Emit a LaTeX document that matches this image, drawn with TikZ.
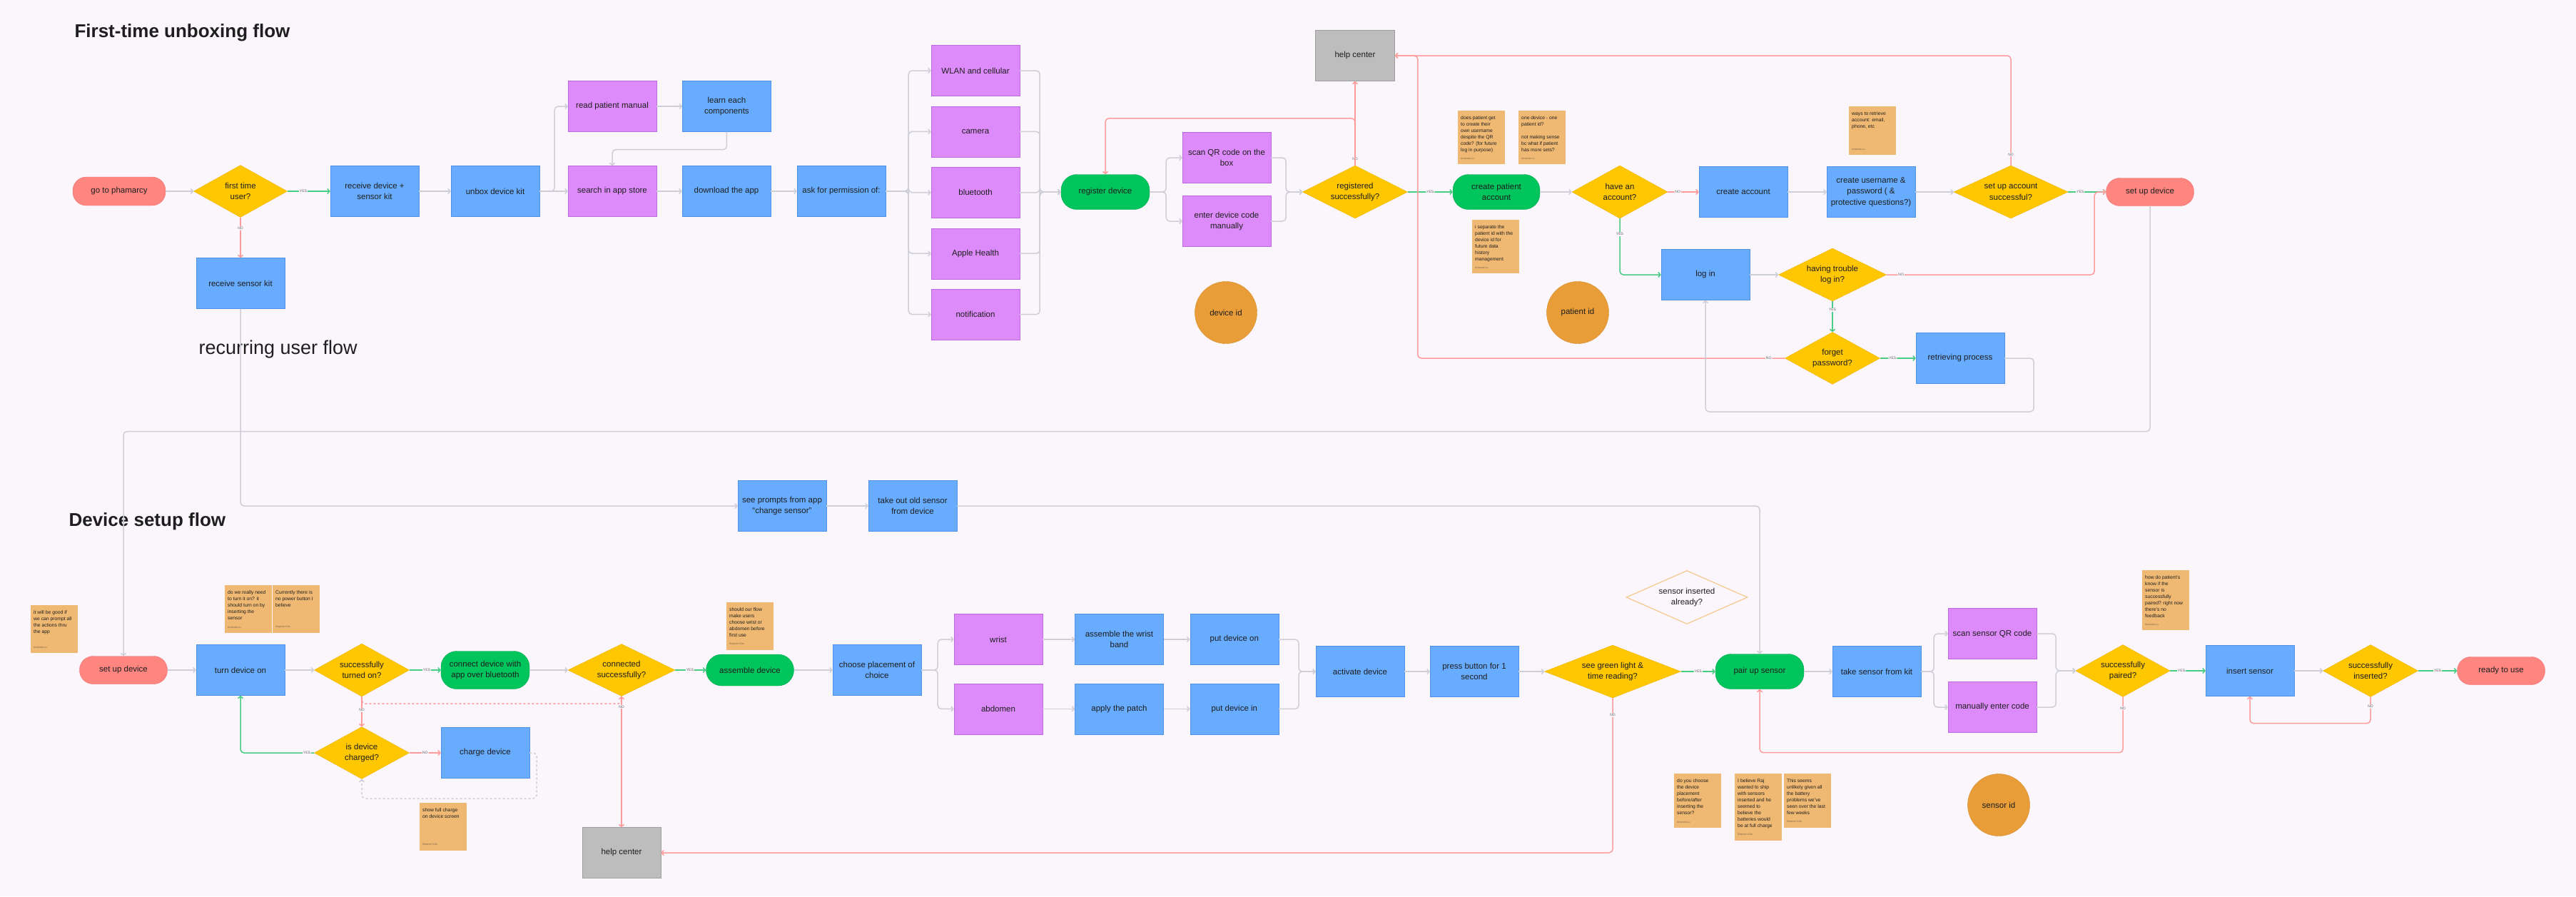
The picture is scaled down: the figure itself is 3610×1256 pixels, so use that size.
\documentclass[tikz,border=0pt]{standalone}
\usepackage{fontspec}
\setmainfont{Liberation Sans}
\usetikzlibrary{shapes.geometric,arrows.meta,positioning}
\definecolor{bgc}{RGB}{250,246,252}
\definecolor{ink}{RGB}{30,30,30}
\definecolor{procfill}{RGB}{104,172,255}
\definecolor{procline}{RGB}{78,146,232}
\definecolor{permfill}{RGB}{221,139,250}
\definecolor{permline}{RGB}{190,105,228}
\definecolor{actfill}{RGB}{0,196,92}
\definecolor{actline}{RGB}{0,168,78}
\definecolor{termfill}{RGB}{255,133,128}
\definecolor{termline}{RGB}{238,112,110}
\definecolor{decfill}{RGB}{255,199,0}
\definecolor{decline}{RGB}{236,178,0}
\definecolor{decopenline}{RGB}{246,200,140}
\definecolor{helpfill}{RGB}{189,189,189}
\definecolor{helpline}{RGB}{158,158,158}
\definecolor{idfill}{RGB}{232,157,56}
\definecolor{idline}{RGB}{212,138,40}
\definecolor{notefill}{RGB}{240,185,115}
\definecolor{authorgrey}{RGB}{120,95,70}
\definecolor{linegrey}{RGB}{206,206,214}
\definecolor{linered}{RGB}{255,155,155}
\definecolor{linegreen}{RGB}{72,204,132}
\definecolor{labtext}{RGB}{95,95,95}
\newcommand\nodefont{\fontsize{11.5}{15.6}\selectfont}
\newcommand\notefont{\fontsize{6.8}{9}\selectfont}
\newcommand\authorfont{\fontsize{3.6}{4}\selectfont\color{authorgrey}}
\newcommand\labfont{\fontsize{5}{6}\selectfont}
\newcommand\headfont{\fontsize{26}{30}\selectfont\bfseries}
\newcommand\recurfont{\fontsize{27}{32}\selectfont}
\newcommand\notebody[3]{\parbox[t][#1][t]{58pt}{\raggedright #2\par\vfill{\authorfont #3}}}
\tikzset{
  base/.style={align=center, font=\nodefont, text=ink, inner sep=2pt},
  proc/.style={base, rectangle, draw=procline, fill=procfill, minimum width=124pt, minimum height=71pt},
  perm/.style={proc, draw=permline, fill=permfill},
  help/.style={proc, draw=helpline, fill=helpfill, minimum width=111pt},
  term/.style={base, rectangle, rounded corners=19pt, draw=termline, fill=termfill, minimum width=123pt, minimum height=39pt},
  act/.style={base, rectangle, rounded corners=22pt, draw=actline, fill=actfill, minimum width=124pt, minimum height=49pt},
  dec/.style={base, diamond, aspect=2.2, inner sep=0pt, draw=decline, fill=decfill},
  decopen/.style={dec, draw=decopenline, fill=bgc, line width=1.2pt},
  idcirc/.style={base, circle, draw=idline, fill=idfill, minimum size=87pt},
  note/.style={rectangle, fill=notefill, anchor=north west, inner xsep=4pt, inner ysep=7pt, font=\notefont, text=ink, align=left},
  heading/.style={anchor=west, font=\headfont, text=ink},
  arr/.style={-{Straight Barb[length=3pt,width=7pt]}, draw=linegrey, line width=1.5pt, rounded corners=5pt},
  noarr/.style={arr, draw=linered},
  yesarr/.style={arr, draw=linegreen},
  elab/.style={font=\labfont, text=labtext, fill=bgc, inner sep=1pt},
}

\begin{document}
\begin{tikzpicture}[x=1pt, y=-1pt, node distance=14pt]
\path[use as bounding box, fill=bgc] (0,0) rectangle (3610,1256);

% first-time unboxing flow
\node[heading] (ttop) at (101,46) {First-time unboxing flow};
\node[term, minimum width=130pt, minimum height=40pt] (pharm) at (167,268) {go to phamarcy};
\node[dec, minimum width=131pt, minimum height=73pt] (ftu) at (337,268) {first time\\user?};
\node[proc] (rcv) at (525,268) {receive device +\\sensor kit};
\node[proc] (unbox) at (694,268) {unbox device kit};
\node[perm] (manual) at (858,149) {read patient manual};
\node[proc, right=36pt of manual] (learn) {learn each\\components};
\node[perm] (search) at (858,268) {search in app store};
\node[proc] (dl) at (1018,268) {download the app};
\node[proc] (ask) at (1179,268) {ask for permission of:};
\node[perm] (wlan) at (1367,99) {WLAN and cellular};
\node[perm, below=of wlan] (cam) {camera};
\node[perm, below=of cam] (bt) {bluetooth};
\node[perm, below=of bt] (health) {Apple Health};
\node[perm, below=of health] (notif) {notification};
\node[act] (reg) at (1549,269) {register device};
\node[perm] (qr) at (1719,221) {scan QR code on the\\box};
\node[perm] (devcode) at (1719,310) {enter device code\\manually};
\node[dec, minimum width=147pt, minimum height=74pt] (regok) at (1899,269) {registered\\successfully?};
\node[help] (helptop) at (1899,78) {help center};
\node[act, minimum width=122pt] (patacc) at (2097,269) {create patient\\account};
\node[dec, minimum width=134pt, minimum height=74pt] (hasacc) at (2270,269) {have an\\account?};
\node[proc] (newacc) at (2443,269) {create account};
\node[proc] (creds) at (2622,269) {create username \&\\password ( \&\\protective questions?)};
\node[dec, minimum width=160pt, minimum height=74pt] (accok) at (2818,269) {set up account\\successful?};
\node[term] (setuptop) at (3013,269) {set up device};
\node[proc] (login) at (2390,385) {log in};
\node[dec, minimum width=151pt, minimum height=74pt] (trouble) at (2568,385) {having trouble\\log in?};
\node[dec, minimum width=133pt, minimum height=73pt] (forgot) at (2568,502) {forget\\password?};
\node[proc] (retrieve) at (2747,502) {retrieving process};
\node[idcirc] (devid) at (1718,438) {device id};
\node[idcirc] (patid) at (2211,438) {patient id};
\node[note] (n1) at (2043,155) {\notebody{61pt}{does patient get\\to create their\\own username\\despite the QR\\code? (for future\\log in purpose)}{Amanda Lu}};
\node[note] (n2) at (2128,155) {\notebody{61pt}{one device - one\\patient id?\\[9pt]not making sense\\bc what if patient\\has more sets?}{Amanda Lu}};
\node[note] (n3) at (2063,308) {\notebody{61pt}{i separate the\\patient id with the\\device id for\\future data\\history\\management}{Amanda Lu}};
\node[note] (n4) at (2591,149) {\notebody{54pt}{ways to retrieve\\account: email,\\phone, etc}{Amanda Lu}};

% recurring user flow
\node[proc] (rsk) at (337,397) {receive sensor kit};
\node[anchor=west, font=\recurfont, text=ink] (trecur) at (275,490) {recurring user flow};
\node[proc] (prompts) at (1096,709) {see prompts from app\\“change sensor”};
\node[proc] (oldsensor) at (1279,709) {take out old sensor\\from device};

% device setup flow
\node[heading] (tbottom) at (93,731) {Device setup flow};
\node[note] (n5) at (43,848) {\notebody{53pt}{it will be good if\\we can prompt all\\the actions thru\\the app}{Amanda Lu}};
\node[term] (setupbot) at (173,939) {set up device};
\node[proc] (turnon) at (337,939) {turn device on};
\node[note] (n6) at (315,820) {\notebody{53pt}{do we really need\\to turn it on? it\\should turn on by\\inserting the\\sensor}{Amanda Lu}};
\node[note] (n7) at (382,820) {\notebody{53pt}{Currently there is\\no power button I\\believe}{Stephen Kim}};
\node[dec, minimum width=133pt, minimum height=74pt] (turnok) at (507,939) {successfully\\turned on?};
\node[act, minimum height=53pt] (connect) at (680,939) {connect device with\\app over bluetooth};
\node[dec, minimum width=150pt, minimum height=73pt] (connok) at (871,939) {connected\\successfully?};
\node[act, minimum width=123pt, minimum height=44pt] (assemble) at (1051,939) {assemble device};
\node[note] (n8) at (1018,844) {\notebody{53pt}{should our flow\\make users\\choose wrist or\\abdomen before\\first use}{Stephen Kim}};
\node[proc] (placement) at (1229,939) {choose placement of\\choice};
\node[dec, minimum width=133pt, minimum height=73pt] (charged) at (507,1055) {is device\\charged?};
\node[proc] (charge) at (680,1055) {charge device};
\node[note] (n9) at (588,1125) {\notebody{53pt}{show full charge\\on device screen}{Stephen Kim}};
\node[help, minimum width=110pt] (helpbot) at (871,1195) {help center};
\node[perm] (wrist) at (1399,896) {wrist};
\node[perm, below=26pt of wrist] (abdomen) {abdomen};
\node[proc, right=45pt of wrist] (band) {assemble the wrist\\band};
\node[proc, right=45pt of abdomen] (patch) {apply the patch};
\node[proc, right=37pt of band] (puton) {put device on};
\node[proc, right=37pt of patch] (putin) {put device in};
\node[proc] (activate) at (1906,941) {activate device};
\node[proc] (press) at (2066,941) {press button for 1\\second};
\node[dec, minimum width=191pt, minimum height=74pt] (light) at (2260,941) {see green light \&\\time reading?};
\node[decopen, minimum width=170pt, minimum height=75pt] (sensq) at (2364,837) {sensor inserted\\already?};
\node[act] (pair) at (2466,941) {pair up sensor};
\node[proc] (takesensor) at (2630,941) {take sensor from kit};
\node[perm] (scansensor) at (2792,888) {scan sensor QR code};
\node[perm] (entercode) at (2792,991) {manually enter code};
\node[dec, minimum width=132pt, minimum height=73pt] (pairok) at (2975,940) {successfully\\paired?};
\node[note] (n10) at (3002,799) {\notebody{70pt}{how do patient's\\know if the\\sensor is\\successfully\\paired? right now\\there's no\\feedback}{Amanda Lu}};
\node[proc] (insert) at (3153,940) {insert sensor};
\node[dec, minimum width=133pt, minimum height=73pt] (insertok) at (3322,940) {successfully\\inserted?};
\node[term] (ready) at (3505,940) {ready to use};
\node[note] (n11) at (2346,1084) {\notebody{62pt}{do you choose\\the device\\placement\\before/after\\inserting the\\sensor?}{Amanda Lu}};
\node[note] (n12) at (2431,1084) {\notebody{80pt}{I believe Raj\\wanted to ship\\with sensors\\inserted and he\\seemed to\\believe the\\batteries would\\be at full charge}{Stephen Kim}};
\node[note] (n13) at (2500,1084) {\notebody{62pt}{This seems\\unlikely given all\\the battery\\problems we've\\seen over the last\\few weeks}{Stephen Kim}};
\node[idcirc] (sensid) at (2801,1128) {sensor id};

% connectors, first-time unboxing
\draw[arr] (pharm) -- (ftu);
\draw[yesarr] (ftu) -- node[elab, pos=.37] (yes1) {YES} (rcv);
\draw[noarr] (ftu) -- node[elab, pos=.27] (no1) {NO} (rsk);
\draw[arr] (rcv) -- (unbox);
\draw[arr] (unbox) -- (search);
\draw[arr] (unbox.east) -- ++(21,0) |- (manual.west);
\draw[arr] (manual) -- (learn);
\draw[arr] (learn.south) -- ++(0,25) -| (search.north);
\draw[arr] (search) -- (dl);
\draw[arr] (dl) -- (ask);
\foreach \p in {wlan,cam,bt,health,notif}{
  \draw[arr] (ask.east) -- ++(32,0) |- (\p.west);
  \draw[arr] (\p.east) -- ++(28,0) |- (reg.west);
}
\foreach \p in {qr,devcode}{
  \draw[arr] (reg.east) -- ++(23,0) |- (\p.west);
  \draw[arr] (\p.east) -- ++(21,0) |- (regok.west);
}
\draw[noarr] (regok.north) -- node[elab, pos=.08] (no2) {NO} (helptop.south);
\draw[noarr] (regok.north) -- ++(0,-66) -| (reg.north);
\draw[yesarr] (regok) -- node[elab, pos=.5] (yes2) {YES} (patacc);
\draw[arr] (patacc) -- (hasacc);
\draw[noarr] (hasacc) -- node[elab, pos=.32] (no3) {NO} (newacc);
\draw[yesarr] (hasacc.south) |- node[elab, pos=.14] (yes3) {YES} (login.west);
\draw[arr] (newacc) -- (creds);
\draw[arr] (creds) -- (accok);
\draw[yesarr] (accok) -- node[elab, pos=.32] (yes4) {YES} (setuptop);
\draw[noarr] (accok.north) |- node[elab, pos=.05] (no4) {NO} (helptop.east);
\draw[arr] (login) -- (trouble);
\draw[noarr] (trouble.east) -- node[elab, pos=.07] (no5) {NO} ++(291.5,0) |- (setuptop.west);
\draw[yesarr] (trouble) -- node[elab, pos=.28] (yes5) {YES} (forgot);
\draw[yesarr] (forgot) -- node[elab, pos=.35] (yes6) {YES} (retrieve);
\draw[noarr] (forgot.west) -- node[elab, pos=.044] (no6) {NO} ++(-514.5,0) |- (helptop.east);
\draw[arr] (retrieve.east) -- ++(41,0) -- ++(0,75) -| (login.south);

% connectors, recurring user flow
\draw[arr] (setuptop.south) -- ++(0,316) -| (setupbot.north);
\draw[arr] (rsk.south) |- (prompts.west);
\draw[arr] (prompts) -- (oldsensor);
\draw[arr] (oldsensor.east) -| (pair.north);

% connectors, device setup flow
\draw[arr] (setupbot) -- (turnon);
\draw[arr] (turnon) -- (turnok);
\draw[yesarr] (turnok) -- node[elab, pos=.55] (yes7) {YES} (connect);
\draw[arr] (connect) -- (connok);
\draw[yesarr] (connok) -- node[elab, pos=.48] (yes8) {YES} (assemble);
\draw[arr] (assemble) -- (placement);
\draw[noarr] (turnok) -- node[elab, pos=.45] (no7) {NO} (charged);
\draw[noarr, dashed] (turnok.south) -- ++(0,10) -| (connok.south);
\draw[noarr] (connok) -- node[elab, pos=.08] (no8) {NO} (helpbot);
\draw[yesarr] (charged.west) -| node[elab, pos=.05] (yes9) {YES} (turnon.south);
\draw[noarr] (charged) -- node[elab, pos=.5] (no9) {NO} (charge);
\draw[arr, dashed] (charge.east) -- ++(10,0) -- ++(0,64) -| (charged.south);
\foreach \p in {wrist,abdomen}{
  \draw[arr] (placement.east) -- ++(23,0) |- (\p.west);
}
\draw[arr] (wrist) -- (band);
\draw[arr] (band) -- (puton);
\draw[arr] (abdomen) -- (patch);
\draw[arr] (patch) -- (putin);
\foreach \p in {puton,putin}{
  \draw[arr] (\p.east) -- ++(28,0) |- (activate.west);
}
\draw[arr] (activate) -- (press);
\draw[arr] (press) -- (light);
\draw[yesarr] (light) -- node[elab, pos=.5] (yes10) {YES} (pair);
\draw[noarr] (light.south) |- node[elab, pos=.055] (no10) {NO} (helpbot.east);
\draw[arr] (pair) -- (takesensor);
\foreach \p in {scansensor,entercode}{
  \draw[arr] (takesensor.east) -- ++(18,0) |- (\p.west);
  \draw[arr] (\p.east) -- ++(27,0) |- (pairok.west);
}
\draw[yesarr] (pairok) -- node[elab, pos=.32] (yes11) {YES} (insert);
\draw[noarr] (pairok.south) -- node[elab, pos=.2] (no11) {NO} ++(0,78) -| (pair.south);
\draw[arr] (insert) -- (insertok);
\draw[yesarr] (insertok) -- node[elab, pos=.5] (yes12) {YES} (ready);
\draw[noarr] (insertok.south) -- node[elab, pos=.36] (no12) {NO} ++(0,37) -| (insert.south);
\end{tikzpicture}
\end{document}
